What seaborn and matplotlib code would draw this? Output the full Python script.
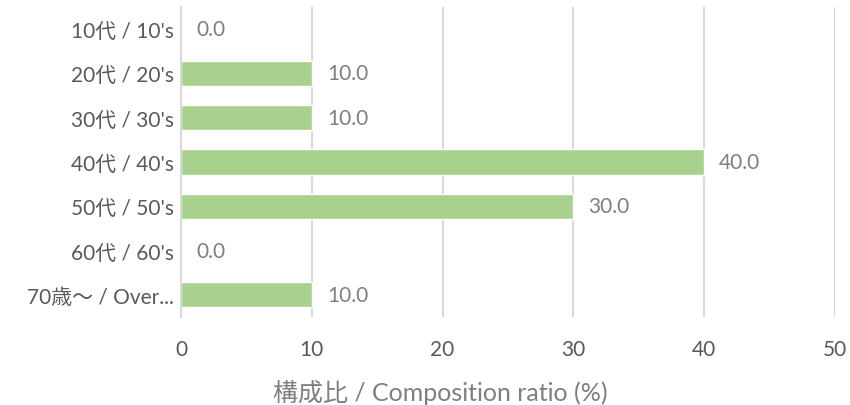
import matplotlib
matplotlib.use("Agg")
import matplotlib.pyplot as plt
import seaborn as sns
import pandas as pd

categories = ["10代 / 10's", "20代 / 20's", "30代 / 30's", "40代 / 40's",
              "50代 / 50's", "60代 / 60's", "70歳～ / Over..."]
values = [0.0, 10.0, 10.0, 40.0, 30.0, 0.0, 10.0]
x_ticks = [0, 10, 20, 30, 40, 50]
x_label = "構成比 / Composition ratio (%)"

sns.set_theme(style="white")
plt.rcParams['font.family'] = ['Lato', 'Noto Sans CJK JP', 'DejaVu Sans']

df = pd.DataFrame({"cat": categories, "val": values})

fig = plt.figure(figsize=(8.5, 4.06), dpi=100)
ax = fig.add_axes([181/850, 1-318/406, (835-181)/850, (318-8)/406])

sns.barplot(data=df, y="cat", x="val", color="#A9D18E", saturation=1,
            width=0.57, ax=ax, orient="h")

ax.set_xlim(0, 50)
ax.set_ylim(6.5, -0.5)
ax.set_xticks(x_ticks)
ax.set_xticklabels([str(t) for t in x_ticks])
ax.xaxis.grid(True, color="#D9D9D9", linewidth=1.5)
ax.set_axisbelow(True)
for s in ["top", "right", "bottom"]:
    ax.spines[s].set_visible(False)
ax.spines["left"].set_color("#D9D9D9")
ax.spines["left"].set_linewidth(1.5)
ax.tick_params(axis="both", length=0, labelsize=15, colors="#595959")
ax.tick_params(axis="y", pad=5)
ax.tick_params(axis="x", pad=16)
ax.set_ylabel("")
ax.set_xlabel(x_label, fontsize=18, color="#7F7F7F")
ax.xaxis.set_label_coords((440-181)/654, -0.20)

for i, v in enumerate(values):
    ax.annotate(f"{v:.1f}", xy=(v, i), xytext=(15, 0), textcoords="offset pixels",
                va="center", ha="left", fontsize=15, color="#7F7F7F")

fig.savefig("out.png", dpi=100)
